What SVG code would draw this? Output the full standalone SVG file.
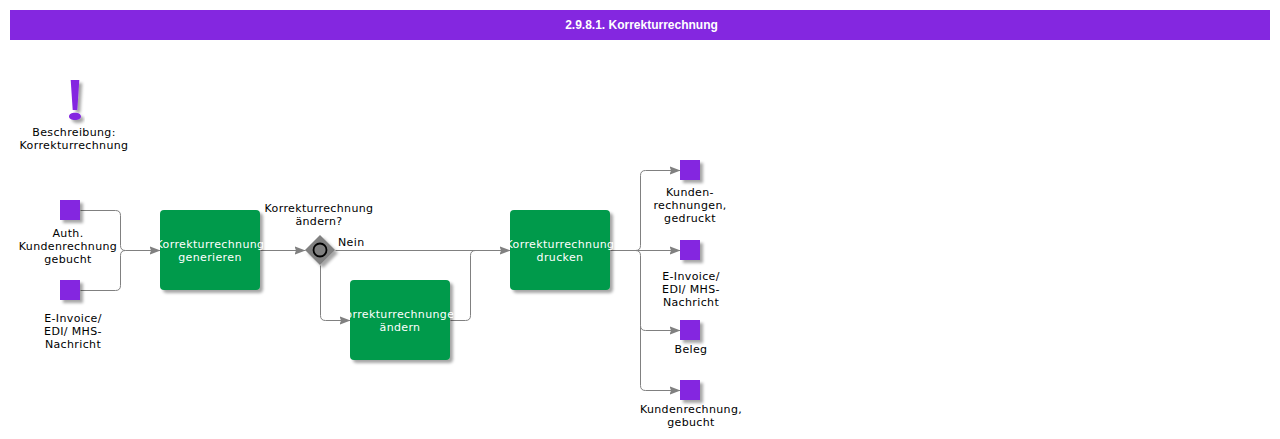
<svg xmlns="http://www.w3.org/2000/svg" width="1280" height="439" viewBox="0 0 1280 439">
<style>
text{font-family:"DejaVu Sans",Verdana,sans-serif;font-size:11px;letter-spacing:.36px;fill:#000;text-anchor:middle}
.w{fill:#fff}
.t{font-family:"Liberation Sans",Arial,sans-serif;font-size:12px;letter-spacing:0;font-weight:bold;fill:#fff}
.p{fill:#8427e0;filter:url(#s)}
.g{fill:#009a4b;filter:url(#s)}
.c{fill:none;stroke:#808080;stroke-width:1}
.a{marker-end:url(#m)}
</style>
<defs>
<filter id="s" x="-20%" y="-20%" width="150%" height="150%"><feDropShadow dx="3" dy="3" stdDeviation="1.500" flood-color="#000" flood-opacity=".35"/></filter>
<marker id="m" markerUnits="userSpaceOnUse" markerWidth="12" markerHeight="10" refX="11" refY="5" orient="auto"><path d="M0 .8L11 5L0 9.200L1.500 5Z" fill="#808080"/></marker>
<clipPath id="c1"><rect x="156.500" y="210" width="107" height="80"/></clipPath>
<clipPath id="c2"><rect x="346.500" y="280" width="107" height="80"/></clipPath>
<clipPath id="c3"><rect x="506.500" y="210" width="107" height="80"/></clipPath>
</defs>
<rect id="title-bar" x="10" y="10" width="1260" height="30" fill="#8427e0"/>
<text class="t" x="641.500" y="29">2.9.8.1. Korrekturrechnung</text>
<g id="connectors" transform="translate(.5 .5)">
<path class="c" d="M80 210H115Q120 210 120 215V245Q120 250 125 250"/>
<path class="c a" d="M80 290H115Q120 290 120 285V255Q120 250 125 250H160"/>
<path class="c a" d="M260 250H305"/>
<path class="c a" d="M335 250H510"/>
<path class="c a" d="M320 265V315Q320 320 325 320H350"/>
<path class="c" d="M450 320H465Q470 320 470 315V255Q470 250 475 250"/>
<path class="c a" d="M610 250H680"/>
<path class="c a" d="M635 250Q640 250 640 245V175Q640 170 645 170H680"/>
<path class="c a" d="M635 250Q640 250 640 255V325Q640 330 645 330H680"/>
<path class="c a" d="M640 325V385Q640 390 645 390H680"/>
</g>
<g id="desc">
<path class="p" d="M70.700 80H79.300L77.300 110H72.700ZM75 112.700C78.500 112.700 81 114.300 81 116.400C81 118.500 78.500 120 75 120C71.500 120 69 118.500 69 116.400C69 114.300 71.500 112.700 75 112.700Z"/>
<text x="74" y="136">Beschreibung:</text><text x="74" y="149">Korrekturrechnung</text>
</g>
<g id="in1"><rect class="p" x="60" y="200" width="20" height="20"/><text x="68" y="237">Auth.</text><text x="68" y="250">Kundenrechnung</text><text x="68" y="263">gebucht</text></g>
<g id="in2"><rect class="p" x="60" y="280" width="20" height="20"/><text x="73" y="322">E-Invoice/</text><text x="73" y="335">EDI/ MHS-</text><text x="73" y="348">Nachricht</text></g>
<g id="n1"><rect class="g" x="160" y="210" width="100" height="80" rx="4"/><g clip-path="url(#c1)"><text class="w" x="210" y="248">Korrekturrechnung</text><text class="w" x="210" y="261">generieren</text></g></g>
<g id="gw"><path d="M320 235L335 250L320 265L305 250Z" fill="#808080" filter="url(#s)"/><circle cx="320" cy="250" r="6.500" fill="#808080" stroke="#000" stroke-width="1.800"/><text x="319" y="212">Korrekturrechnung</text><text x="319" y="225">ändern?</text></g>
<text id="nein" x="338" y="246" style="text-anchor:start">Nein</text>
<g id="n2"><rect class="g" x="350" y="280" width="100" height="80" rx="4"/><g clip-path="url(#c2)"><text class="w" x="400" y="318">Korrekturrechnungen</text><text class="w" x="400" y="331">ändern</text></g></g>
<g id="n3"><rect class="g" x="510" y="210" width="100" height="80" rx="4"/><g clip-path="url(#c3)"><text class="w" x="560" y="248">Korrekturrechnung</text><text class="w" x="560" y="261">drucken</text></g></g>
<g id="o1"><rect class="p" x="680" y="160" width="20" height="20"/><text x="690" y="196">Kunden-</text><text x="690" y="209">rechnungen,</text><text x="690" y="222">gedruckt</text></g>
<g id="o2"><rect class="p" x="680" y="240" width="20" height="20"/><text x="691" y="280">E-Invoice/</text><text x="691" y="293">EDI/ MHS-</text><text x="691" y="306">Nachricht</text></g>
<g id="o3"><rect class="p" x="680" y="320" width="20" height="20"/><text x="691" y="353">Beleg</text></g>
<g id="o4"><rect class="p" x="680" y="380" width="20" height="20"/><text x="691" y="413">Kundenrechnung,</text><text x="691" y="426">gebucht</text></g>
</svg>
